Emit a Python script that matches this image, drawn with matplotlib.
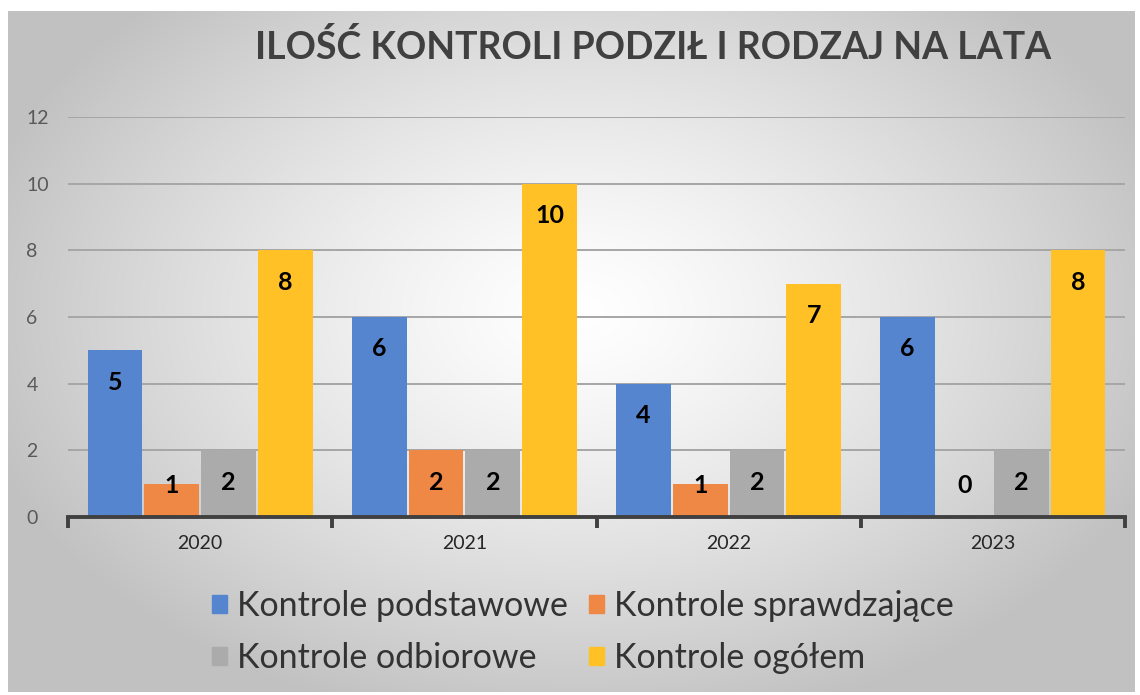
import numpy as np
import matplotlib.pyplot as plt
from matplotlib.patches import Patch

plt.rcParams['font.family'] = ['Lato', 'DejaVu Sans']

years = ['2020', '2021', '2022', '2023']
podstawowe = [5, 6, 4, 6]
sprawdzajace = [1, 2, 1, 0]
odbiorowe = [2, 2, 2, 2]
ogolem = [8, 10, 7, 8]

series = [
    ('Kontrole podstawowe', podstawowe, '#5585CF'),
    ('Kontrole sprawdzające', sprawdzajace, '#EE8844'),
    ('Kontrole odbiorowe', odbiorowe, '#ABABAB'),
    ('Kontrole ogółem', ogolem, '#FFC125'),
]

fig = plt.figure(figsize=(11.4, 6.95), dpi=100)

# radial grey background
bg = fig.add_axes([8/1140, 3/695, 1127/1140, 681/695], zorder=-10)
yy, xx = np.mgrid[0:681, 0:1127]
d = np.sqrt(((xx - 570) / 620.0) ** 2 + ((yy - 300) / 420.0) ** 2)
shade = 1.0 - 0.24 * np.clip(d, 0, 1) ** 1.3
bg.imshow(np.dstack([shade] * 3), aspect='auto', interpolation='bilinear')
bg.axis('off')

ax = fig.add_axes([68/1140, 1 - 517/695, (1125-68)/1140, 400/695])
ax.patch.set_alpha(0)

x = np.arange(len(years))
step = 0.215
width = 0.207
for i, (name, vals, col) in enumerate(series):
    pos = x + (i - 1.5) * step
    ax.bar(pos, vals, width=width, color=col, zorder=3)
    for p, v in zip(pos, vals):
        ly = max(v - 0.95, 0.95)
        ax.text(p, ly, str(v), ha='center', va='center', fontsize=18,
                fontweight='bold', color='black', zorder=4)

ax.set_xlim(-0.5, 3.5)
ax.set_ylim(0, 12)
ax.set_yticks(range(0, 13, 2))
ax.yaxis.grid(True, color='#a6a6a6', linewidth=1.4, zorder=0)
ax.set_axisbelow(True)
for s in ['top', 'right', 'left']:
    ax.spines[s].set_visible(False)
ax.spines['bottom'].set_color('#404040')
ax.spines['bottom'].set_linewidth(2.8)
ax.spines['bottom'].set_zorder(5)
ax.tick_params(axis='y', length=0, labelsize=14, labelcolor='#595959', pad=30)
ax.set_xticks(x)
ax.set_xticklabels(years)
ax.tick_params(axis='x', which='major', length=0, labelsize=14,
               labelcolor='#262626', pad=13)
ax.set_xticks(np.arange(-0.5, 4, 1), minor=True)
ax.tick_params(axis='x', which='minor', length=8, width=2.8, color='#404040',
               direction='out')
for lab in ax.get_yticklabels():
    lab.set_horizontalalignment('left')

fig.text(0.573, 0.933, 'ILOŚĆ KONTROLI PODZIŁ I RODZAJ NA LATA', ha='center',
         va='center', fontsize=27, fontweight='bold', color='#404040')

handles = [Patch(color=c, label=n) for n, v, c in series]
# legend fills by column, so reorder to get rows like the original
order = [0, 2, 1, 3]
fig.legend(handles=[handles[i] for i in order], loc='center',
           bbox_to_anchor=(583/1140, 1 - 632/695), ncol=2, frameon=False,
           prop={'size': 24.5}, labelcolor='#333333',
           handlelength=0.45, handleheight=0.45, handletextpad=0.3,
           columnspacing=0.6, labelspacing=0.6)

fig.savefig('out.png', dpi=100)
